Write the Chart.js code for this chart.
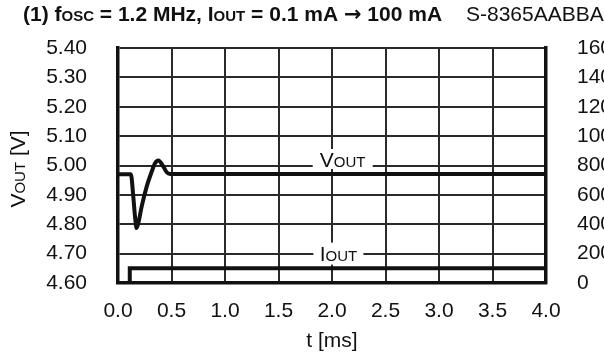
<!DOCTYPE html>
<html>
<head>
<meta charset="utf-8">
<script src="https://cdn.jsdelivr.net/npm/chart.js@4.4.0/dist/chart.umd.min.js"></script>
<style>
  html, body { margin: 0; padding: 0; background: #fff; overflow: hidden; }
  #wrap { width: 604px; height: 356px; overflow: hidden; }
</style>
</head>
<body>
<div id="wrap"><canvas id="chart" width="680" height="356"></canvas></div>
<script>
// V_OUT trace [ms] / [V]
const vTime = [0, 0.12, 0.143, 0.159, 0.174, 0.19, 0.221, 0.268, 0.315, 0.346, 0.377, 0.424, 0.455, 0.486, 4.0];
const vOut  = [4.97, 4.97, 4.894, 4.826, 4.787, 4.804, 4.86, 4.928, 4.979, 5.008, 5.017, 4.996, 4.977, 4.971, 4.971];

// I_OUT step [ms] / [mA]
const iTime = [0, 0.11, 0.11, 4.0];
const iOut  = [0, 0, 100, 100];

// axis ranges
const tRange = [0, 4.0, 0.5];
const vRange = [4.6, 5.4, 0.1];
const iRange = [0, 1600, 200];

const FONT = '"Liberation Sans", Arial, Helvetica, sans-serif';
const INK = '#111';

// draws text made of [text, isSmall, family] parts, on one baseline
function partFont(p, size, weight) {
    return weight + ' ' + (p[1] ? Math.round(size * 0.72) : size) + 'px ' + (p[2] || FONT);
}

function partsWidth(ctx, parts, size, weight) {
    let w = 0;
    parts.forEach(function (p) {
        ctx.font = partFont(p, size, weight);
        w += ctx.measureText(p[0]).width;
    });
    return w;
}

function drawParts(ctx, x, y, parts, size, weight) {
    parts.forEach(function (p) {
        ctx.font = partFont(p, size, weight);
        ctx.fillText(p[0], x, y);
        x += ctx.measureText(p[0]).width;
    });
}

const textPlugin = {
    id: 'texts',
    beforeDatasetsDraw(chart) {
        const ctx = chart.ctx;
        const xs = chart.scales.x, ys = chart.scales.y;
        const labels = [
            { t: 2.1, v: 5.022, w: 60, h: 20, parts: [['V', false], ['OUT', true]] },
            { t: 2.06, v: 4.70, w: 50, h: 22, parts: [['I', false], ['OUT', true]] }
        ];
        ctx.save();
        labels.forEach(function (l) {
            const cx = xs.getPixelForValue(l.t);
            const cy = ys.getPixelForValue(l.v);
            ctx.fillStyle = '#fff';
            ctx.fillRect(cx - l.w / 2, cy - l.h / 2, l.w, l.h);
            ctx.fillStyle = INK;
            ctx.textBaseline = 'alphabetic';
            const w = partsWidth(ctx, l.parts, 21, 'normal');
            drawParts(ctx, cx - w / 2, cy + 7.5, l.parts, 21, 'normal');
        });
        ctx.restore();
    },
    afterDraw(chart) {
        const ctx = chart.ctx;
        ctx.save();
        ctx.fillStyle = INK;
        ctx.textBaseline = 'alphabetic';
        drawParts(ctx, 23, 21, [
            ['(1) f', false], ['OSC', true], [' = 1.2 MHz, I', false], ['OUT', true],
            [' = 0.1 mA ', false], ['\u2192', false, '"DejaVu Sans", sans-serif'], [' 100 mA', false]
        ], 21, 'bold');
        drawParts(ctx, 466, 21, [['S-8365AABBA', false]], 21, 'normal');

        // left axis title, rotated
        const yParts = [['V', false], ['OUT', true], [' [V]', false]];
        ctx.translate(25, 169);
        ctx.rotate(-Math.PI / 2);
        const w = partsWidth(ctx, yParts, 21, 'normal');
        drawParts(ctx, -w / 2, 0, yParts, 21, 'normal');
        ctx.restore();
    }
};

const ctx = document.getElementById('chart');

new Chart(ctx, {
    type: 'line',
    data: {
        datasets: [
            {
                label: 'VOUT',
                data: vTime.map((t, i) => ({ x: t, y: vOut[i] })),
                yAxisID: 'y',
                borderColor: '#111',
                borderWidth: 4,
                pointRadius: 0,
                cubicInterpolationMode: 'monotone',
                fill: false
            },
            {
                label: 'IOUT',
                data: iTime.map((t, i) => ({ x: t, y: iOut[i] })),
                yAxisID: 'y1',
                borderColor: '#111',
                borderWidth: 4,
                pointRadius: 0,
                tension: 0,
                fill: false
            }
        ]
    },
    options: {
        responsive: false,
        animation: false,
        layout: { padding: { top: 48, left: 0, right: 0, bottom: 0 } },
        plugins: {
            legend: { display: false },
            tooltip: { enabled: false }
        },
        scales: {
            x: {
                type: 'linear',
                min: tRange[0], max: tRange[1],
                afterFit: function (s) { s.height = 73; },
                grid: { color: '#2a2a2a', lineWidth: 2, drawTicks: false },
                border: { color: '#111', width: 3.5 },
                ticks: {
                    stepSize: tRange[2],
                    padding: 16,
                    color: INK,
                    font: { family: FONT, size: 21 },
                    maxRotation: 0,
                    callback: v => v.toFixed(1)
                },
                title: {
                    display: true,
                    text: 't [ms]',
                    color: INK,
                    font: { family: FONT, size: 21 },
                    padding: { top: 4, bottom: 2 }
                }
            },
            y: {
                position: 'left',
                min: vRange[0], max: vRange[1],
                afterFit: function (s) { s.width = 118; },
                grid: { color: '#2a2a2a', lineWidth: 2, drawTicks: false },
                border: { color: '#111', width: 3.5 },
                ticks: {
                    stepSize: vRange[2],
                    padding: 31,
                    color: INK,
                    font: { family: FONT, size: 21 },
                    callback: v => v.toFixed(2)
                }
            },
            y1: {
                position: 'right',
                min: iRange[0], max: iRange[1],
                afterFit: function (s) { s.width = 134; },
                grid: { display: false, drawTicks: false },
                border: { color: '#111', width: 3.5 },
                ticks: {
                    stepSize: iRange[2],
                    padding: 31,
                    color: INK,
                    font: { family: FONT, size: 21 },
                    callback: v => String(v)
                }
            }
        }
    },
    plugins: [textPlugin]
});
</script>
</body>
</html>
